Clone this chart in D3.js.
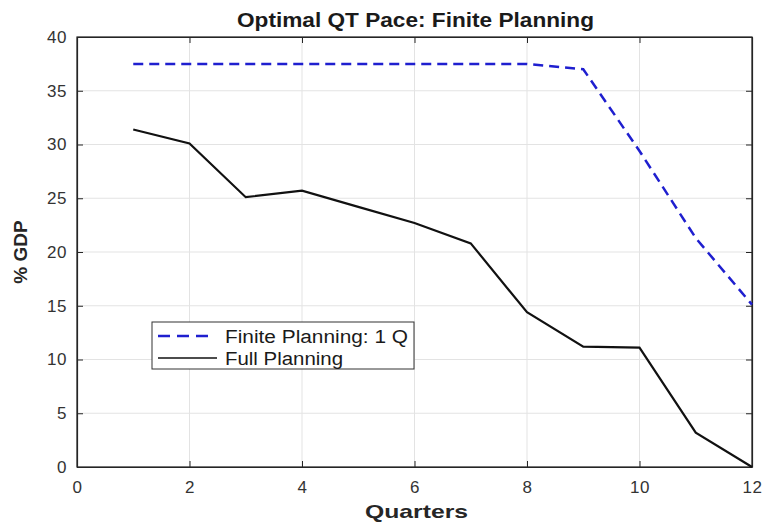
<!DOCTYPE html>
<html><head><meta charset="utf-8">
<script src="https://cdn.jsdelivr.net/npm/d3@7"></script>
<style>body{margin:0;background:#fff}svg{display:block;font-family:"Liberation Sans",Arial,sans-serif}</style>
</head><body><svg id="c" width="772" height="527"></svg>
<script>
const quarters = [1,2,3,4,5,6,7,8,9,10,11,12];
const finitePlanning = [37.5,37.5,37.5,37.5,37.5,37.5,37.5,37.5,37.0,29.4,21.3,15.1];
const fullPlanning = [31.4,30.1,25.1,25.7,24.2,22.7,20.8,14.4,11.2,11.1,3.2,0];
const xTicks = [0,2,4,6,8,10,12];
const yTicks = [0,5,10,15,20,25,30,35,40];
const seriesNames = ["Finite Planning: 1 Q","Full Planning"];

const svg = d3.select("#c");
const L=77,R=752,T=37,B=467;
const x = d3.scaleLinear().domain([0,12]).range([L,R]);
const y = d3.scaleLinear().domain([0,40]).range([B,T]);

// grid
svg.append("g").selectAll("line").data(xTicks).join("line")
  .attr("x1",d=>x(d)).attr("x2",d=>x(d)).attr("y1",T).attr("y2",B)
  .attr("stroke","#e3e3e3").attr("stroke-width",1);
svg.append("g").selectAll("line").data(yTicks).join("line")
  .attr("y1",d=>y(d)).attr("y2",d=>y(d)).attr("x1",L).attr("x2",R)
  .attr("stroke","#e3e3e3").attr("stroke-width",1);

// axes
svg.append("g").attr("transform",`translate(0,${B})`)
  .call(d3.axisBottom(x).tickValues(xTicks).tickSize(-6).tickPadding(14).tickSizeOuter(0));
svg.append("g").attr("transform",`translate(${L},0)`)
  .call(d3.axisLeft(y).tickValues(yTicks).tickSize(-6).tickPadding(10).tickSizeOuter(0));
svg.append("g").attr("transform",`translate(0,${T})`)
  .call(d3.axisTop(x).tickValues(xTicks).tickSize(-6).tickFormat("").tickSizeOuter(0));
svg.append("g").attr("transform",`translate(${R},0)`)
  .call(d3.axisRight(y).tickValues(yTicks).tickSize(-6).tickFormat("").tickSizeOuter(0));
svg.selectAll(".domain").attr("stroke","#262626").attr("stroke-width",1.2);
svg.selectAll(".tick line").attr("stroke","#262626");
svg.selectAll(".tick text").attr("font-size",17).attr("fill","#333").attr("letter-spacing",0.6)
  .attr("font-family","Liberation Sans, Arial, sans-serif");
svg.append("rect").attr("x",L).attr("y",T).attr("width",R-L).attr("height",B-T)
  .attr("fill","none").attr("stroke","#262626").attr("stroke-width",1.2);

// lines
const line = d3.line().x((d,i)=>x(quarters[i])).y(d=>y(d));
svg.append("path").datum(finitePlanning).attr("d",line)
  .attr("fill","none").attr("stroke","#1f1fcf").attr("stroke-width",2.5).attr("stroke-dasharray","10,6");
svg.append("path").datum(fullPlanning).attr("d",line)
  .attr("fill","none").attr("stroke","#111").attr("stroke-width",2.2);

// title & labels
svg.append("text").attr("x",415.5).attr("y",27).attr("text-anchor","middle")
  .attr("font-size",21).attr("font-weight","bold").attr("fill","#1a1a1a")
  .attr("textLength",357).attr("lengthAdjust","spacingAndGlyphs").text("Optimal QT Pace: Finite Planning");
svg.append("text").attr("x",416.5).attr("y",518).attr("text-anchor","middle")
  .attr("font-size",19).attr("font-weight","bold").attr("fill","#262626")
  .attr("textLength",103).attr("lengthAdjust","spacingAndGlyphs").text("Quarters");
svg.append("text").attr("transform",`translate(27,252) rotate(-90)`).attr("text-anchor","middle")
  .attr("font-size",19).attr("font-weight","bold").attr("fill","#262626").text("% GDP");

// legend
const lg = svg.append("g");
lg.append("rect").attr("x",152).attr("y",322).attr("width",262).attr("height",47)
  .attr("fill","#fff").attr("stroke","#333").attr("stroke-width",1);
const styles=[{c:"#1f1fcf",w:2.5,d:"12,7",x2:208,len:183},{c:"#111",w:1.5,d:null,x2:217,len:118}];
seriesNames.forEach((n,i)=>{
  const yy = 336+i*22;
  lg.append("line").attr("x1",158).attr("x2",styles[i].x2).attr("y1",yy).attr("y2",yy)
    .attr("stroke",styles[i].c).attr("stroke-width",styles[i].w).attr("stroke-dasharray",styles[i].d);
  lg.append("text").attr("x",225).attr("y",yy+6.5).attr("font-size",18).attr("fill","#1a1a1a")
    .attr("textLength",styles[i].len).attr("lengthAdjust","spacingAndGlyphs").text(n);
});
</script></body></html>
